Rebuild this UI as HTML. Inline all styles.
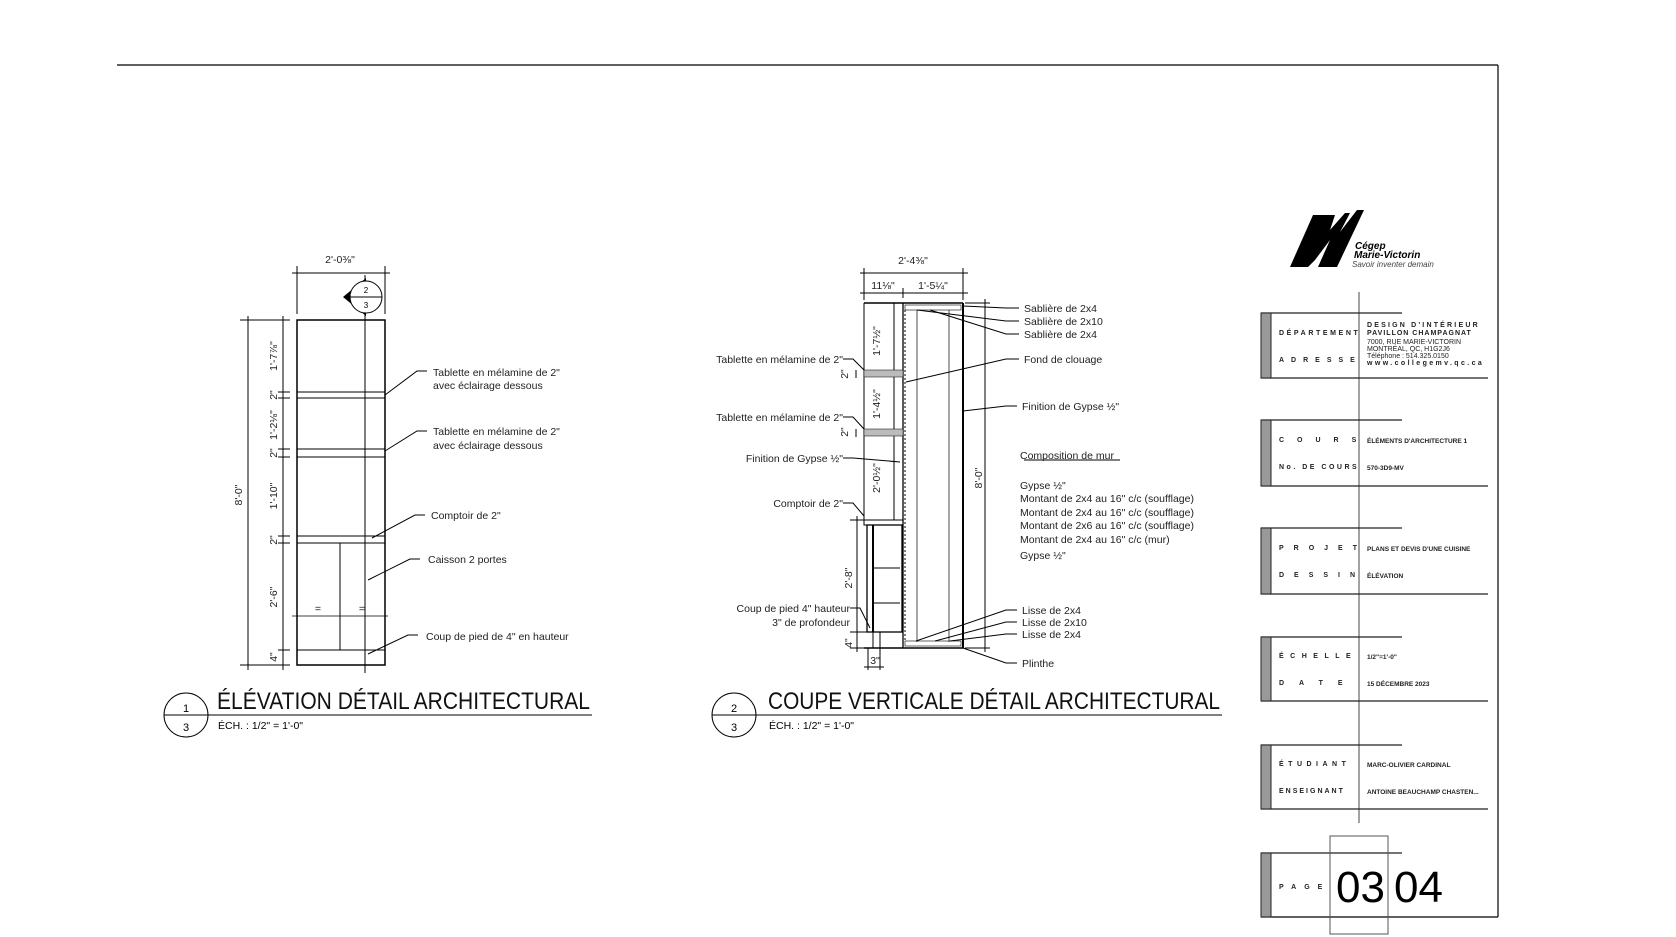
<!DOCTYPE html>
<html><head><meta charset="utf-8"><style>
body{margin:0;background:#fff;}
svg{display:block;font-family:"Liberation Sans",sans-serif;}
.l{stroke:#000;fill:none;stroke-width:1}
.t{font-size:10.5px;fill:#222}
.k{font-size:7px;font-weight:bold;fill:#222}
</style></head><body>
<svg width="1676" height="937" viewBox="0 0 1676 937">
<line x1="117" y1="65" x2="1498" y2="65" stroke="#000" stroke-width="1.2"/>
<line x1="1498" y1="65" x2="1498" y2="917" stroke="#000" stroke-width="1.2"/>
<line x1="1261" y1="917" x2="1498" y2="917" stroke="#000" stroke-width="1.2"/>

<!-- ELEVATION -->
<g class="l">
<rect x="297" y="320" width="88" height="345" stroke-width="1.5"/>
<line x1="365" y1="275" x2="365" y2="673"/>
<line x1="297" y1="392" x2="385" y2="392"/><line x1="297" y1="398" x2="385" y2="398"/>
<line x1="297" y1="449" x2="385" y2="449"/><line x1="297" y1="457" x2="385" y2="457"/>
<line x1="297" y1="536" x2="385" y2="536"/><line x1="297" y1="543" x2="385" y2="543"/>
<line x1="340" y1="543" x2="340" y2="650"/>
<line x1="297" y1="650" x2="385" y2="650"/>
<line x1="292" y1="616" x2="388" y2="616" stroke-width=".7"/>
<line x1="292" y1="273" x2="390" y2="273"/>
<line x1="297" y1="266" x2="297" y2="314"/><line x1="385" y1="266" x2="385" y2="314"/>
<line x1="248" y1="316" x2="248" y2="670"/>
<line x1="283" y1="316" x2="283" y2="670"/>
<line x1="240" y1="320" x2="290" y2="320"/><line x1="240" y1="665" x2="290" y2="665"/>
<line x1="278" y1="392" x2="290" y2="392"/><line x1="278" y1="398" x2="290" y2="398"/>
<line x1="278" y1="449" x2="290" y2="449"/><line x1="278" y1="457" x2="290" y2="457"/>
<line x1="278" y1="536" x2="290" y2="536"/><line x1="278" y1="543" x2="290" y2="543"/>
<line x1="278" y1="650" x2="290" y2="650"/>
<polyline points="427,371 417,371 385,395"/>
<polyline points="427,431 417,431 385,451"/>
<polyline points="425,515 415,515 372,538"/>
<polyline points="420,559 410,559 368,580"/>
<polyline points="418,635 408,635 368,654"/>
<circle cx="186" cy="715" r="22"/>
<line x1="164" y1="715" x2="592" y2="715"/>
</g>
<path d="M343,297 L366,278 L366,316 Z" fill="#000"/>
<circle cx="366" cy="297" r="16" fill="#fff" stroke="#000"/>
<line x1="350" y1="297" x2="382" y2="297" stroke="#000"/>
<text x="366" y="293" font-size="8" text-anchor="middle">2</text>
<text x="366" y="308" font-size="8" text-anchor="middle">3</text>
<text x="340" y="263" class="t" text-anchor="middle">2'-0⅜"</text>
<g class="t">
<text transform="translate(242,495) rotate(-90)" text-anchor="middle">8'-0"</text>
<text transform="translate(277,356) rotate(-90)" text-anchor="middle">1'-7⅞"</text>
<text transform="translate(277,395) rotate(-90)" text-anchor="middle">2"</text>
<text transform="translate(277,425) rotate(-90)" text-anchor="middle">1'-2⅛"</text>
<text transform="translate(277,453) rotate(-90)" text-anchor="middle">2"</text>
<text transform="translate(277,496) rotate(-90)" text-anchor="middle">1'-10"</text>
<text transform="translate(277,540) rotate(-90)" text-anchor="middle">2"</text>
<text transform="translate(277,597) rotate(-90)" text-anchor="middle">2'-6"</text>
<text transform="translate(277,657) rotate(-90)" text-anchor="middle">4"</text>
<text x="318" y="612" text-anchor="middle">=</text><text x="362" y="612" text-anchor="middle">=</text>
<text x="433" y="376">Tablette en mélamine de 2"</text>
<text x="433" y="389">avec éclairage dessous</text>
<text x="433" y="435">Tablette en mélamine de 2"</text>
<text x="433" y="449">avec éclairage dessous</text>
<text x="431" y="519">Comptoir de 2"</text>
<text x="428" y="563">Caisson 2 portes</text>
<text x="426" y="640">Coup de pied de 4" en hauteur</text>
</g>
<text x="186" y="712" font-size="11" text-anchor="middle">1</text>
<text x="186" y="731" font-size="11" text-anchor="middle">3</text>
<text x="217" y="709" font-size="24" fill="#111" textLength="373" lengthAdjust="spacingAndGlyphs">ÉLÉVATION DÉTAIL ARCHITECTURAL</text>
<text x="218" y="729" font-size="10.5">ÉCH. : 1/2" = 1'-0"</text>

<!-- SECTION -->
<g class="l">
<line x1="864" y1="303" x2="963" y2="303" stroke-width="1.5"/>
<line x1="864" y1="648" x2="963" y2="648" stroke-width="1.5"/>
<line x1="864" y1="303" x2="864" y2="520"/>
<line x1="894" y1="303" x2="894" y2="520"/>
<line x1="903" y1="303" x2="903" y2="648" stroke-width="1.3"/>
<line x1="905" y1="310" x2="905" y2="642" stroke-dasharray="2,2"/>
<line x1="917" y1="310" x2="917" y2="642" stroke-width=".7"/>
<line x1="949" y1="310" x2="949" y2="642" stroke-width=".7"/>
<line x1="963" y1="303" x2="963" y2="648" stroke-width="2"/>
<rect x="905" y="305" width="56" height="5" stroke-width=".6"/>
<rect x="905" y="641" width="56" height="5" stroke-width=".6"/>
<rect x="864" y="520" width="39" height="5"/>
<rect x="867" y="525" width="35" height="107" stroke-width="1.3"/>
<line x1="873" y1="525" x2="873" y2="632" stroke-width="2"/>
<line x1="873" y1="568" x2="900" y2="568"/>
<line x1="873" y1="603" x2="900" y2="603"/>
<line x1="864" y1="632" x2="903" y2="632"/>
<line x1="873" y1="632" x2="873" y2="648"/>
<line x1="880" y1="632" x2="880" y2="648"/>
<line x1="860" y1="273" x2="968" y2="273"/>
<line x1="860" y1="293" x2="968" y2="293"/>
<line x1="864" y1="268" x2="864" y2="300"/><line x1="963" y1="268" x2="963" y2="300"/>
<line x1="903" y1="288" x2="903" y2="298"/>
<line x1="985" y1="299" x2="985" y2="652"/>
<line x1="965" y1="303" x2="990" y2="303"/><line x1="965" y1="648" x2="990" y2="648"/>
<line x1="857" y1="516" x2="857" y2="652"/>
<line x1="850" y1="520" x2="864" y2="520"/><line x1="850" y1="632" x2="864" y2="632"/>
<line x1="850" y1="648" x2="864" y2="648"/>
<line x1="868" y1="648" x2="868" y2="670"/><line x1="880" y1="648" x2="880" y2="670"/>
<line x1="864" y1="667" x2="884" y2="667"/>
<line x1="856" y1="370" x2="856" y2="378"/><line x1="856" y1="429" x2="856" y2="437"/>
<polyline points="1019,308 1006,308 963,306"/>
<polyline points="1019,321 1006,321 917,310"/>
<polyline points="1019,334 1006,334 930,310"/>
<polyline points="1019,359 1006,359 906,382"/>
<polyline points="1017,406 1006,406 963,411"/>
<polyline points="1017,610 1006,610 916,641"/>
<polyline points="1017,622 1006,622 935,641"/>
<polyline points="1017,634 1006,634 950,641"/>
<polyline points="1017,663 1006,663 963,648"/>
<polyline points="843,359 853,359 864,370"/>
<polyline points="843,417 853,417 864,429"/>
<polyline points="843,458 853,458 900,462"/>
<polyline points="843,503 853,503 864,516"/>
<polyline points="850,608 860,608 870,628"/>
<line x1="1024" y1="460" x2="1120" y2="460"/>
<circle cx="734" cy="715" r="22"/>
<line x1="712" y1="715" x2="1222" y2="715"/>
</g>
<rect x="864" y="370" width="39" height="7" fill="#bbb" stroke="#000" stroke-width=".5"/>
<rect x="864" y="429" width="39" height="7" fill="#bbb" stroke="#000" stroke-width=".5"/>
<g class="t">
<text x="913" y="264" text-anchor="middle">2'-4⅜"</text>
<text x="883" y="289" text-anchor="middle">11⅛"</text>
<text x="933" y="289" text-anchor="middle">1'-5¼"</text>
<text transform="translate(880,341) rotate(-90)" text-anchor="middle">1'-7½"</text>
<text transform="translate(848,374) rotate(-90)" text-anchor="middle">2"</text>
<text transform="translate(880,404) rotate(-90)" text-anchor="middle">1'-4½"</text>
<text transform="translate(848,432) rotate(-90)" text-anchor="middle">2"</text>
<text transform="translate(880,478) rotate(-90)" text-anchor="middle">2'-0½"</text>
<text transform="translate(852,578) rotate(-90)" text-anchor="middle">2'-8"</text>
<text transform="translate(852,643) rotate(-90)" text-anchor="middle">4"</text>
<text transform="translate(982,478) rotate(-90)" text-anchor="middle">8'-0"</text>
<text x="875" y="664" text-anchor="middle">3"</text>
<text x="1024" y="312">Sablière de 2x4</text>
<text x="1024" y="325">Sablière de 2x10</text>
<text x="1024" y="338">Sablière de 2x4</text>
<text x="1024" y="363">Fond de clouage</text>
<text x="1022" y="410">Finition de Gypse ½"</text>
<text x="1020" y="459">Composition de mur</text>
<text x="1020" y="489">Gypse ½"</text>
<text x="1020" y="502">Montant de 2x4 au 16" c/c (soufflage)</text>
<text x="1020" y="516">Montant de 2x4 au 16" c/c (soufflage)</text>
<text x="1020" y="529">Montant de 2x6 au 16" c/c (soufflage)</text>
<text x="1020" y="543">Montant de 2x4 au 16" c/c (mur)</text>
<text x="1020" y="559">Gypse ½"</text>
<text x="1022" y="614">Lisse de 2x4</text>
<text x="1022" y="626">Lisse de 2x10</text>
<text x="1022" y="638">Lisse de 2x4</text>
<text x="1022" y="667">Plinthe</text>
<g text-anchor="end">
<text x="843" y="363">Tablette en mélamine de 2"</text>
<text x="843" y="421">Tablette en mélamine de 2"</text>
<text x="843" y="462">Finition de Gypse ½"</text>
<text x="843" y="507">Comptoir de 2"</text>
<text x="850" y="612">Coup de pied 4" hauteur</text>
<text x="850" y="626">3" de profondeur</text>
</g>
</g>
<text x="734" y="712" font-size="11" text-anchor="middle">2</text>
<text x="734" y="731" font-size="11" text-anchor="middle">3</text>
<text x="768" y="709" font-size="24" fill="#111" textLength="452" lengthAdjust="spacingAndGlyphs">COUPE VERTICALE DÉTAIL ARCHITECTURAL</text>
<text x="769" y="729" font-size="10.5">ÉCH. : 1/2" = 1'-0"</text>

<!-- TITLE BLOCK -->
<path d="M1290,267 L1313,215 L1335,215 L1330,230 L1345,213 L1350,213 L1340,232 L1357,210 L1364,210 L1337,267 L1318,267 L1330,240 L1315,260 L1308,267 Z" fill="#000"/>
<text x="1355" y="249" font-size="10" font-weight="bold" font-style="italic">Cégep</text>
<text x="1354" y="258" font-size="10" font-weight="bold" font-style="italic">Marie-Victorin</text>
<text x="1352" y="267" font-size="8" font-style="italic" fill="#444">Savoir inventer demain</text>
<line x1="1359" y1="292" x2="1359" y2="823" stroke="#444"/>
<g stroke="#222" stroke-width="1.2">
<line x1="1261" y1="313" x2="1402" y2="313"/><line x1="1261" y1="378" x2="1488" y2="378"/>
<line x1="1261" y1="420" x2="1402" y2="420"/><line x1="1261" y1="486" x2="1488" y2="486"/>
<line x1="1261" y1="528" x2="1402" y2="528"/><line x1="1261" y1="594" x2="1488" y2="594"/>
<line x1="1261" y1="637" x2="1402" y2="637"/><line x1="1261" y1="701" x2="1488" y2="701"/>
<line x1="1261" y1="745" x2="1402" y2="745"/><line x1="1261" y1="809" x2="1488" y2="809"/>
<line x1="1261" y1="853" x2="1402" y2="853"/>
</g>
<g fill="#999" stroke="#222">
<rect x="1261" y="313" width="10" height="65"/><rect x="1261" y="420" width="10" height="66"/>
<rect x="1261" y="528" width="10" height="66"/><rect x="1261" y="637" width="10" height="64"/>
<rect x="1261" y="745" width="10" height="64"/><rect x="1261" y="853" width="10" height="64"/>
</g>
<g class="k">
<text x="1279" y="335" letter-spacing="2.6">DÉPARTEMENT</text>
<text x="1279" y="362" letter-spacing="7">ADRESSE</text>
<text x="1279" y="442" letter-spacing="13">COURS</text>
<text x="1279" y="469" letter-spacing="2.5">No. DE COURS</text>
<text x="1279" y="550" letter-spacing="10">PROJET</text>
<text x="1279" y="577" letter-spacing="10">DESSIN</text>
<text x="1279" y="658" letter-spacing="6.5">ÉCHELLE</text>
<text x="1279" y="685" letter-spacing="15">DATE</text>
<text x="1279" y="766" letter-spacing="4.5">ÉTUDIANT</text>
<text x="1279" y="793" letter-spacing="2">ENSEIGNANT</text>
<text x="1279" y="889" letter-spacing="8">PAGE</text>
<text x="1367" y="327" letter-spacing="2.2">DESIGN  D'INTÉRIEUR</text>
<text x="1367" y="335" letter-spacing="1">PAVILLON  CHAMPAGNAT</text>
<text x="1367" y="344" font-weight="normal">7000, RUE MARIE-VICTORIN</text>
<text x="1367" y="351" font-weight="normal">MONTRÉAL, QC, H1G2J6</text>
<text x="1367" y="358" font-weight="normal">Téléphone : 514.325.0150</text>
<text x="1367" y="365" letter-spacing="2.4">www.collegemv.qc.ca</text>
<text x="1367" y="443" font-size="6.5">ÉLÉMENTS D'ARCHITECTURE 1</text>
<text x="1367" y="470" font-size="6.5">570-3D9-MV</text>
<text x="1367" y="551" font-size="6.5">PLANS ET DEVIS D'UNE CUISINE</text>
<text x="1367" y="578" font-size="6.5">ÉLÉVATION</text>
<text x="1367" y="659" font-size="6.5">1/2"=1'-0"</text>
<text x="1367" y="686" font-size="6.5">15 DÉCEMBRE 2023</text>
<text x="1367" y="767" font-size="6.5">MARC-OLIVIER CARDINAL</text>
<text x="1367" y="794" font-size="6.5">ANTOINE BEAUCHAMP CHASTEN...</text>
</g>
<rect x="1330" y="836" width="58" height="98" fill="none" stroke="#555"/>
<text x="1336" y="902" font-size="44" fill="#000">03</text>
<text x="1394" y="902" font-size="44" fill="#000">04</text>
</svg>
</body></html>
